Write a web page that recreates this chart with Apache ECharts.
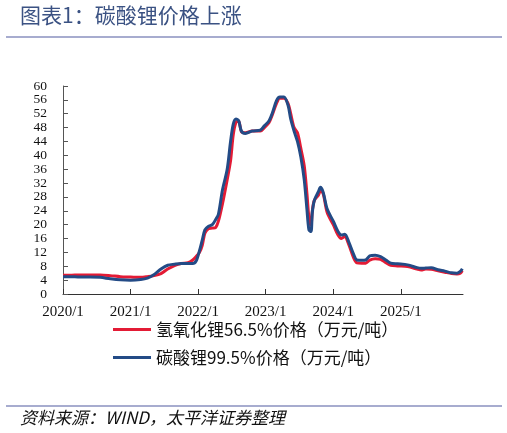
<!DOCTYPE html>
<html lang="zh">
<head>
    <meta charset="UTF-8">
    <title>碳酸锂价格上涨</title>
    <script type="text/javascript" src="https://cdn.jsdelivr.net/npm/echarts@6/dist/echarts.min.js"></script>
    <style>
        html, body { margin: 0; padding: 0; background: #fff; }
    </style>
</head>
<body>
<div id="chart" style="width:507px;height:433px;"></div>
<script type="text/javascript">
// sample times, decimal years
var times = [2020.00, 2020.10, 2020.25, 2020.40, 2020.55, 2020.70, 2020.85, 2021.00, 2021.15, 2021.25,
    2021.35, 2021.45, 2021.55, 2021.65, 2021.75, 2021.85, 2021.92, 2021.97, 2022.02, 2022.06,
    2022.10, 2022.15, 2022.21, 2022.26, 2022.30, 2022.36, 2022.43, 2022.48, 2022.52, 2022.56,
    2022.60, 2022.64, 2022.70, 2022.80, 2022.92, 2022.98, 2023.05, 2023.10, 2023.16, 2023.21,
    2023.27, 2023.33, 2023.37, 2023.42, 2023.47, 2023.52, 2023.57, 2023.61, 2023.64, 2023.67,
    2023.69, 2023.72, 2023.78, 2023.81, 2023.85, 2023.91, 2024.00, 2024.07, 2024.12, 2024.17,
    2024.23, 2024.30, 2024.35, 2024.42, 2024.48, 2024.54, 2024.62, 2024.70, 2024.78, 2024.85,
    2024.95, 2025.10, 2025.24, 2025.30, 2025.37, 2025.45, 2025.55, 2025.65, 2025.75, 2025.83,
    2025.88, 2025.91];
// 碳酸锂99.5%
var carbonate = [5.0, 5.0, 4.9, 4.9, 4.8, 4.4, 4.1, 4.0, 4.2, 4.6,
    5.6, 7.2, 8.3, 8.6, 8.8, 8.8, 8.8, 9.5, 12.5, 15.5,
    18.5, 19.5, 20.0, 21.5, 23.0, 30.0, 36.0, 44.0, 49.0, 50.5,
    50.0, 47.0, 46.3, 47.0, 47.3, 48.5, 50.0, 52.3, 55.8, 56.8,
    56.8, 54.5, 50.5, 47.0, 44.0, 39.5, 33.0, 24.5, 18.5, 18.0,
    23.5, 27.0, 29.5, 30.8, 29.4, 24.5, 21.0, 18.0, 17.0, 17.2,
    15.0, 11.5, 9.8, 9.7, 9.8, 11.0, 11.2, 10.8, 9.8, 8.9,
    8.7, 8.4, 7.6, 7.4, 7.5, 7.6, 7.0, 6.6, 6.1, 6.0,
    6.5, 7.3];
// 氢氧化锂56.5%
var hydroxide = [5.4, 5.4, 5.5, 5.5, 5.5, 5.3, 5.0, 4.9, 4.8, 5.0,
    5.3, 5.9, 7.2, 8.2, 8.8, 9.0, 9.8, 10.8, 12.0, 14.0,
    17.5, 18.8, 19.0, 19.2, 21.0, 26.0, 33.0, 38.5, 46.0, 49.5,
    49.8, 46.8, 46.5, 47.0, 47.0, 48.0, 49.5, 51.8, 55.0, 56.5,
    56.5, 55.0, 52.0, 48.0, 46.5, 42.0, 37.0, 29.0, 22.0, 19.8,
    24.0, 27.0, 28.5, 29.8, 29.0, 23.5, 20.0, 17.0, 16.0, 16.6,
    14.2, 10.5, 9.0, 8.9, 8.9, 9.8, 10.2, 10.0, 9.0, 8.3,
    8.1, 7.9, 7.2, 6.9, 7.2, 7.1, 6.7, 6.3, 5.9, 5.8,
    6.0, 6.7];
var yearTicks = [2020, 2021, 2022, 2023, 2024, 2025];
var names = ['氢氧化锂56.5%价格（万元/吨）', '碳酸锂99.5%价格（万元/吨）'];

function pairs(vals) {
    return times.map(function (t, i) { return [t, vals[i]]; });
}

var myChart = echarts.init(document.getElementById('chart'));
var option = {
    animation: false,
    grid: { left: 63, right: 44, top: 86, bottom: 139 },
    graphic: [
        { type: 'text', left: 20, top: 5,
          style: { text: '图表1：碳酸锂价格上涨', fill: '#3b5283', font: '21px "Noto Sans CJK SC"' } },
        { type: 'line', shape: { x1: 6, y1: 37, x2: 502, y2: 37 },
          style: { stroke: '#8a90bf', lineWidth: 1.5 } },
        { type: 'line', shape: { x1: 6, y1: 406, x2: 502, y2: 406 },
          style: { stroke: '#8a90bf', lineWidth: 1.5 } },
        { type: 'text', left: 20, top: 409,
          style: { text: '资料来源：WIND，太平洋证券整理', fill: '#111',
                   font: 'italic 17px "Noto Sans CJK SC"' } }
    ],
    legend: {
        orient: 'vertical',
        left: 108, top: 316,
        icon: 'rect',
        itemWidth: 38, itemHeight: 3,
        itemGap: 11,
        textStyle: { fontFamily: 'Noto Sans CJK SC', fontSize: 17, color: '#111' },
        data: names
    },
    xAxis: {
        type: 'value',
        min: 2020, max: 2025.92,
        axisLine: { lineStyle: { color: '#333' } },
        axisTick: { inside: true, length: 5, customValues: yearTicks, lineStyle: { color: '#333' } },
        axisLabel: {
            customValues: yearTicks,
            margin: 11,
            color: '#111',
            fontFamily: 'Liberation Serif',
            fontSize: 15,
            formatter: function (v) { return v + '/1'; }
        },
        splitLine: { show: false }
    },
    yAxis: {
        type: 'value',
        min: 0, max: 60, interval: 4,
        axisLine: { show: true, lineStyle: { color: '#555' } },
        axisTick: { show: true, inside: true, length: 5, lineStyle: { color: '#555' } },
        axisLabel: { color: '#111', fontFamily: 'Liberation Serif', fontSize: 13.5, margin: 16,
                     showMinLabel: true, showMaxLabel: true },
        splitLine: { show: false }
    },
    series: [
        { name: names[0], type: 'line', data: pairs(hydroxide), showSymbol: false, smooth: 0.3,
          lineStyle: { color: '#e31b35', width: 3 }, itemStyle: { color: '#e31b35' } },
        { name: names[1], type: 'line', data: pairs(carbonate), showSymbol: false, smooth: 0.3,
          lineStyle: { color: '#234b86', width: 3 }, itemStyle: { color: '#234b86' } }
    ]
};
myChart.setOption(option);
</script>
</body>
</html>
